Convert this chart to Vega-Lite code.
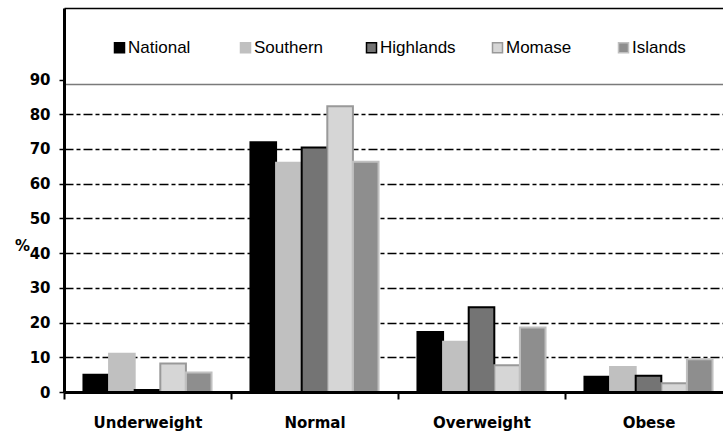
{
  "$schema": "https://vega.github.io/schema/vega-lite/v6.json",
  "width": 659,
  "height": 384,
  "autosize": {"type": "none"},
  "padding": {"left": 64, "top": 8, "right": 0, "bottom": 45},
  "background": "white",
  "config": {"view": {"stroke": null}, "font": "DejaVu Sans"},
  "data": {
    "values": [
      {"Category": "Underweight", "Region": "National", "Value": 5.0},
      {"Category": "Underweight", "Region": "Southern", "Value": 11.0},
      {"Category": "Underweight", "Region": "Highlands", "Value": 0.6},
      {"Category": "Underweight", "Region": "Momase", "Value": 8.2},
      {"Category": "Underweight", "Region": "Islands", "Value": 5.6},
      {"Category": "Normal", "Region": "National", "Value": 71.9},
      {"Category": "Normal", "Region": "Southern", "Value": 66.0},
      {"Category": "Normal", "Region": "Highlands", "Value": 70.4},
      {"Category": "Normal", "Region": "Momase", "Value": 82.3},
      {"Category": "Normal", "Region": "Islands", "Value": 66.3},
      {"Category": "Overweight", "Region": "National", "Value": 17.3},
      {"Category": "Overweight", "Region": "Southern", "Value": 14.5},
      {"Category": "Overweight", "Region": "Highlands", "Value": 24.4},
      {"Category": "Overweight", "Region": "Momase", "Value": 7.7},
      {"Category": "Overweight", "Region": "Islands", "Value": 18.6},
      {"Category": "Obese", "Region": "National", "Value": 4.4},
      {"Category": "Obese", "Region": "Southern", "Value": 7.2},
      {"Category": "Obese", "Region": "Highlands", "Value": 4.7},
      {"Category": "Obese", "Region": "Momase", "Value": 2.5},
      {"Category": "Obese", "Region": "Islands", "Value": 9.4}
    ]
  },
  "mark": {"type": "bar", "strokeWidth": 2},
  "encoding": {
    "x": {
      "field": "Category",
      "type": "nominal",
      "sort": ["Underweight", "Normal", "Overweight", "Obese"],
      "scale": {"range": [0, 668], "paddingInner": 0, "paddingOuter": 0},
      "axis": {
        "title": null,
        "zindex": 1,
        "labelAngle": 0,
        "labelFont": "DejaVu Sans",
        "labelFontWeight": "bold",
        "labelFontSize": 15,
        "labelColor": "black",
        "labelBaseline": "top",
        "labelPadding": 16,
        "tickBand": "extent",
        "tickSize": 7,
        "tickWidth": 2,
        "tickColor": "black",
        "domainColor": "black",
        "domainWidth": 3
      }
    },
    "xOffset": {
      "field": "Region",
      "sort": ["National", "Southern", "Highlands", "Momase", "Islands"],
      "scale": {"paddingInner": 0, "paddingOuter": 0.76}
    },
    "y": {
      "field": "Value",
      "type": "quantitative",
      "scale": {"domain": [0, 110.6], "nice": false, "zero": true},
      "axis": {
        "title": "%",
        "titleAngle": 0,
        "titleFont": "DejaVu Sans",
        "titleFontWeight": "bold",
        "titleFontSize": 15,
        "titleColor": "black",
        "titleAlign": "center",
        "titleBaseline": "middle",
        "titleX": -42,
        "titleY": 237,
        "values": [0, 10, 20, 30, 40, 50, 60, 70, 80, 90, 88.7, 110.6],
        "labelExpr": "datum.value % 10 === 0 && datum.value <= 90 ? datum.label : ''",
        "labelFont": "DejaVu Sans",
        "labelFontWeight": "bold",
        "labelFontSize": 15,
        "labelColor": "black",
        "labelPadding": 9,
        "tickSize": 5,
        "tickWidth": 1.5,
        "tickColor": "black",
        "tickOpacity": {"condition": {"test": "datum.value > 85 && datum.value !== 90", "value": 0}, "value": 1},
        "domainColor": "black",
        "domainWidth": 3,
        "grid": true,
        "gridWidth": 1.5,
        "gridColor": {"condition": {"test": "datum.value > 85 && datum.value < 90", "value": "#7a7a7a"}, "value": "black"},
        "gridDash": {"condition": {"test": "datum.value > 85 && datum.value !== 90", "value": []}, "value": [9, 3, 4, 3]},
        "gridOpacity": {"condition": {"test": "datum.value === 0 || datum.value === 90", "value": 0}, "value": 1}
      }
    },
    "fill": {
      "field": "Region",
      "type": "nominal",
      "sort": ["National", "Southern", "Highlands", "Momase", "Islands"],
      "scale": {
        "domain": ["National", "Southern", "Highlands", "Momase", "Islands"],
        "range": ["#000000", "#c0c0c0", "#747474", "#d6d6d6", "#8e8e8e"]
      },
      "legend": {
        "title": null,
        "orient": "none",
        "legendX": 47,
        "legendY": 31,
        "direction": "horizontal",
        "columns": 5,
        "gridAlign": "all",
        "columnPadding": 33,
        "padding": 0,
        "symbolType": "square",
        "symbolSize": 100,
        "symbolStrokeWidth": 1.5,
        "labelFont": "Liberation Sans",
        "labelFontSize": 17,
        "labelColor": "black",
        "labelOffset": 0
      }
    },
    "stroke": {
      "field": "Region",
      "type": "nominal",
      "sort": ["National", "Southern", "Highlands", "Momase", "Islands"],
      "scale": {
        "domain": ["National", "Southern", "Highlands", "Momase", "Islands"],
        "range": ["#000000", "#c0c0c0", "#000000", "#999999", "#c0c0c0"]
      },
      "legend": {
        "title": null,
        "orient": "none",
        "legendX": 47,
        "legendY": 31,
        "direction": "horizontal",
        "columns": 5,
        "gridAlign": "all",
        "columnPadding": 33,
        "padding": 0,
        "symbolType": "square",
        "symbolSize": 100,
        "symbolStrokeWidth": 1.5,
        "labelFont": "Liberation Sans",
        "labelFontSize": 17,
        "labelColor": "black",
        "labelOffset": 0
      }
    }
  }
}
